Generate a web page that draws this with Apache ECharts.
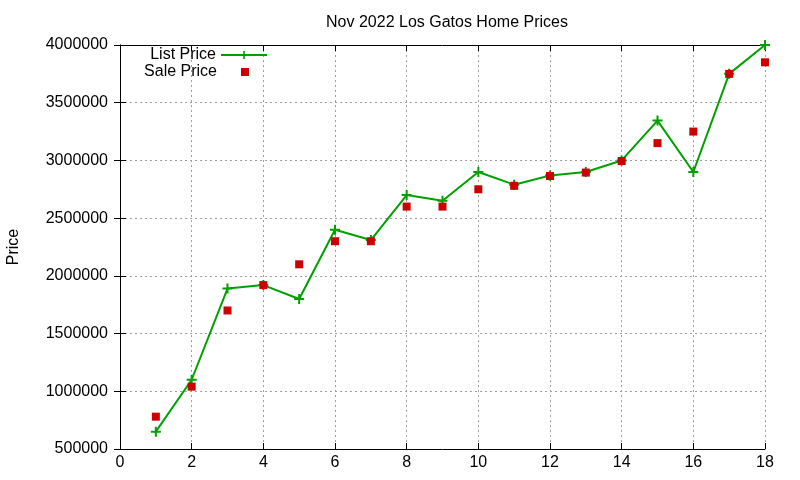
<!DOCTYPE html>
<html>
<head>
<meta charset="utf-8">
<title>Nov 2022 Los Gatos Home Prices</title>
<script src="https://cdn.jsdelivr.net/npm/echarts@6/dist/echarts.min.js"></script>
<style>
  html, body { margin: 0; padding: 0; background: #fff; }
  #chart { width: 800px; height: 480px; }
</style>
</head>
<body>
<div id="chart"></div>
<script>
// home number along x, prices in dollars
var homes = [1, 2, 3, 4, 5, 6, 7, 8, 9, 10, 11, 12, 13, 14, 15, 16, 17, 18];
var listPrice = [650000, 1100000, 1890000, 1920000, 1800000, 2400000, 2310000, 2700000, 2650000,
                 2900000, 2790000, 2870000, 2900000, 3000000, 3345000, 2900000, 3750000, 4000000];
var salePrice = [780000, 1040000, 1700000, 1920000, 2100000, 2300000, 2300000, 2600000, 2600000,
                 2750000, 2780000, 2865000, 2895000, 2995000, 3150000, 3250000, 3750000, 3850000];
var xTicks = { min: 0, max: 18, interval: 2 };
var yTicks = { min: 500000, max: 4000000, interval: 500000 };

var FONT = '"Liberation Sans", Arial, sans-serif';
var GREEN = '#00a000';
var RED = '#cc0000';
var PLUS = 'path://M4,0H6V4H10V6H6V10H4V6H0V4H4Z';

function pairs(xs, ys){
    return xs.map(function(x, i){ return [x, ys[i]]; });
}

var gridLine = { show: true, lineStyle: { color: '#a0a0a0', type: [2, 3], width: 1 } };
var border = { show: true, lineStyle: { color: '#000', width: 1 } };
var tick = { show: true, inside: true, length: 6, lineStyle: { color: '#000' } };

var chart = echarts.init(document.getElementById('chart'));
var option = {
    animation: false,
    backgroundColor: '#fff',
    title: {
        text: 'Nov 2022 Los Gatos Home Prices',
        left: 442,
        textAlign: 'center',
        top: 10,
        textStyle: { fontFamily: FONT, fontSize: 16, fontWeight: 'normal', color: '#000' }
    },
    legend: [
        {
            data: ['List Price'],
            right: 532,
            top: 47,
            itemWidth: 46,
            itemHeight: 10,
            textStyle: { fontFamily: FONT, fontSize: 16, color: '#000' },
            align: 'right',
            padding: 0
        },
        {
            data: ['Sale Price'],
            right: 551,
            top: 64,
            itemWidth: 8,
            itemHeight: 8,
            textStyle: { fontFamily: FONT, fontSize: 16, color: '#000', padding: [0, 19, 0, 0] },
            align: 'right',
            padding: 0
        }
    ],
    grid: { left: 120, right: 35, top: 45, bottom: 31, containLabel: false, outerBoundsMode: 'none' },
    xAxis: [
        {
            type: 'value',
            min: xTicks.min, max: xTicks.max, interval: xTicks.interval,
            axisLine: border,
            axisTick: tick,
            axisLabel: { fontFamily: FONT, fontSize: 16, color: '#000', margin: 6 },
            splitLine: gridLine
        },
        {
            type: 'value', position: 'top',
            min: xTicks.min, max: xTicks.max, interval: xTicks.interval,
            axisLine: border,
            axisTick: tick,
            axisLabel: { show: false },
            splitLine: { show: false }
        }
    ],
    yAxis: [
        {
            type: 'value',
            min: yTicks.min, max: yTicks.max, interval: yTicks.interval,
            name: 'Price',
            nameLocation: 'middle',
            nameGap: 98,
            nameTextStyle: { fontFamily: FONT, fontSize: 16, color: '#000' },
            axisLine: border,
            axisTick: tick,
            axisLabel: {
                fontFamily: FONT, fontSize: 16, color: '#000', margin: 12,
                formatter: function(v){ return String(v); }
            },
            splitLine: gridLine
        },
        {
            type: 'value', position: 'right',
            min: yTicks.min, max: yTicks.max, interval: yTicks.interval,
            axisLine: border,
            axisTick: tick,
            axisLabel: { show: false },
            splitLine: { show: false }
        }
    ],
    series: [
        {
            name: 'List Price',
            type: 'line',
            data: pairs(homes, listPrice),
            symbol: PLUS,
            symbolSize: 10,
            showSymbol: true,
            lineStyle: { color: GREEN, width: 2 },
            itemStyle: { color: GREEN },
            z: 3
        },
        {
            name: 'Sale Price',
            type: 'scatter',
            data: pairs(homes, salePrice),
            symbol: 'rect',
            symbolSize: 8,
            itemStyle: { color: RED, opacity: 1 },
            z: 4
        }
    ]
};
chart.setOption(option);
</script>
</body>
</html>
